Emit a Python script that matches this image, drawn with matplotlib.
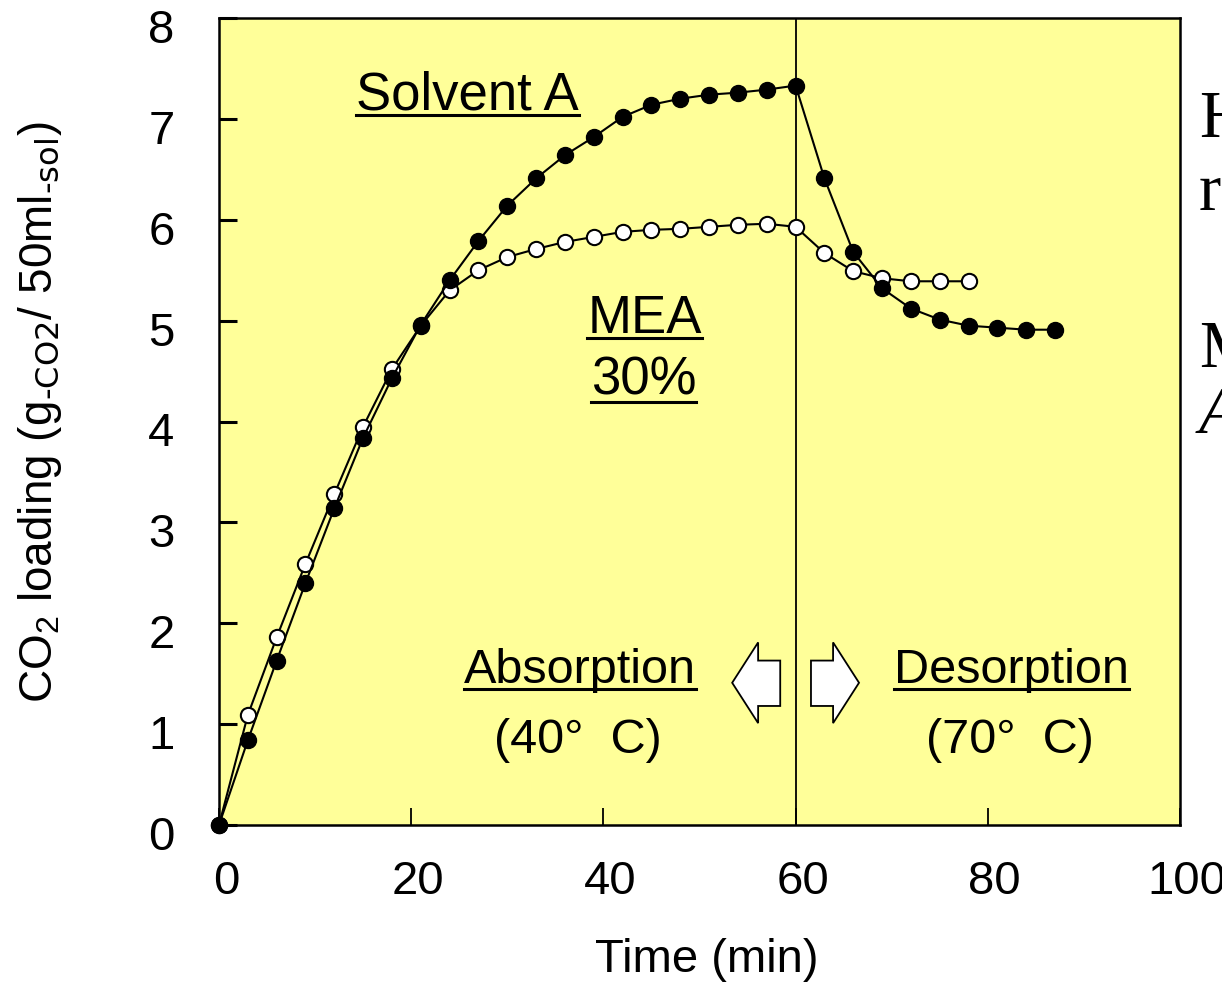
import matplotlib
matplotlib.use("Agg")
import matplotlib.pyplot as plt
from matplotlib.patches import Polygon
from matplotlib.lines import Line2D
import matplotlib.transforms as mtransforms

plt.rcParams['font.family'] = ['Liberation Sans', 'DejaVu Sans']
plt.rcParams['mathtext.default'] = 'regular'

# ---------------- data ----------------
time_a = [0, 3, 6, 9, 12, 15, 18, 21, 24, 27, 30, 33, 36, 39, 42, 45, 48, 51, 54, 57, 60,
          63, 66, 69, 72, 75, 78, 81, 84, 87]
solvent_a = [0.0, 0.84, 1.63, 2.40, 3.14, 3.84, 4.43, 4.96, 5.40, 5.79, 6.14, 6.41, 6.64, 6.82,
             7.02, 7.14, 7.20, 7.24, 7.26, 7.29, 7.33,
             6.41, 5.68, 5.32, 5.12, 5.01, 4.95, 4.93, 4.91, 4.91]
time_mea = [0, 3, 6, 9, 12, 15, 18, 21, 24, 27, 30, 33, 36, 39, 42, 45, 48, 51, 54, 57, 60,
            63, 66, 69, 72, 75, 78]
mea_30 = [0.0, 1.09, 1.86, 2.59, 3.28, 3.95, 4.52, 4.95, 5.30, 5.50, 5.63, 5.71, 5.78, 5.83,
          5.88, 5.90, 5.91, 5.93, 5.95, 5.96, 5.93,
          5.67, 5.49, 5.42, 5.39, 5.39, 5.39]
x_ticks = [0, 20, 40, 60, 80, 100]
y_ticks = [0, 1, 2, 3, 4, 5, 6, 7, 8]
switch_time = 60

W, H = 1222, 983
fig = plt.figure(figsize=(W / 100, H / 100), dpi=100)
fig.patch.set_facecolor('white')

ax = fig.add_axes([219 / W, 1 - 825 / H, 961 / W, 807 / H])
ax.set_facecolor('#FFFF99')
ax.set_xlim(0, 100)
ax.set_ylim(0, 8)

# vertical switch line
ax.axvline(switch_time, color='black', lw=1.3, zorder=2)

# series
ax.plot(time_mea, mea_30, '-o', color='black', lw=1.5, ms=11, mfc='white', mec='black',
        mew=1.5, zorder=3, clip_on=False)
ax.plot(time_a, solvent_a, '-o', color='black', lw=1.5, ms=11.5, mfc='black', mec='black',
        mew=1.0, zorder=4, clip_on=False)

# ticks
ax.set_xticks(x_ticks)
ax.set_yticks(y_ticks)
ax.tick_params(axis='y', direction='in', length=13, width=2.2, labelsize=34, pad=32)
ax.tick_params(axis='x', direction='in', length=12, width=1.3, labelsize=34, pad=25)
for sp in ax.spines.values():
    sp.set_linewidth(1.8)

off_y = mtransforms.ScaledTranslation(0, -8 / 100, fig.dpi_scale_trans)
for lab in ax.get_yticklabels():
    lab.set_transform(lab.get_transform() + off_y)
off_x = mtransforms.ScaledTranslation(7 / 100, 0, fig.dpi_scale_trans)
for lab in ax.get_xticklabels():
    lab.set_transform(lab.get_transform() + off_x)

# axis labels
fig.text(707 / W, 1 - 960 / H, 'Time (min)', ha='center', va='center', fontsize=34)
fig.text(40 / W, 1 - 412 / H,
         r'CO$_{2}$ loading (g$_{\text{-CO2}}$/ 50ml$_{\text{-sol}}$)',
         ha='center', va='center', rotation=90, fontsize=33)

# arrows (block arrows) in data coordinates
left_arrow = [(53.4, 1.41), (56.1, 1.81), (56.1, 1.63), (58.4, 1.63), (58.4, 1.18),
              (56.1, 1.18), (56.1, 1.01)]
right_arrow = [(66.6, 1.41), (63.9, 1.81), (63.9, 1.63), (61.6, 1.63), (61.6, 1.18),
               (63.9, 1.18), (63.9, 1.01)]
for pts in (left_arrow, right_arrow):
    ax.add_patch(Polygon(pts, closed=True, facecolor='white', edgecolor='black', lw=1.3,
                         zorder=3))

# annotations (pixel baselines)
annots = [
    ('Solvent A', 467.5, 110, 38, 5),
    ('MEA', 644.5, 333, 38, 5),
    ('30%', 643.5, 395, 38, 7),
    ('Absorption', 580, 683, 35, 6),
    ('(40°  C)', 578, 753, 35, None),
    ('Desorption', 1011.5, 683, 35, 6),
    ('(70°  C)', 1010, 753, 35, None),
]
texts = []
for s, cx, by, fs, ul in annots:
    t = fig.text(cx / W, 1 - by / H, s, ha='center', va='baseline', fontsize=fs, zorder=5)
    texts.append((t, by, ul))

# clipped text from the neighbouring slide
serif = ['Liberation Serif', 'DejaVu Serif']
fig.text(1199 / W, 1 - 137 / H, 'H', ha='left', va='baseline', fontsize=48, family=serif)
fig.text(1199 / W, 1 - 210 / H, 're', ha='left', va='baseline', fontsize=48, family=serif)
fig.text(1199 / W, 1 - 367 / H, 'M', ha='left', va='baseline', fontsize=48, family=serif)
fig.text(1199 / W, 1 - 433 / H, 'A', ha='left', va='baseline', fontsize=48, family=serif,
         style='italic')

# underlines
fig.canvas.draw()
r = fig.canvas.get_renderer()
for t, by, ul in texts:
    if ul is None:
        continue
    bb = t.get_window_extent(renderer=r)
    yline = 1 - (by + ul) / H
    fig.add_artist(Line2D([bb.x0 / W, bb.x1 / W], [yline, yline], transform=fig.transFigure,
                          color='black', lw=2.2))

fig.savefig('out.png', dpi=100)
